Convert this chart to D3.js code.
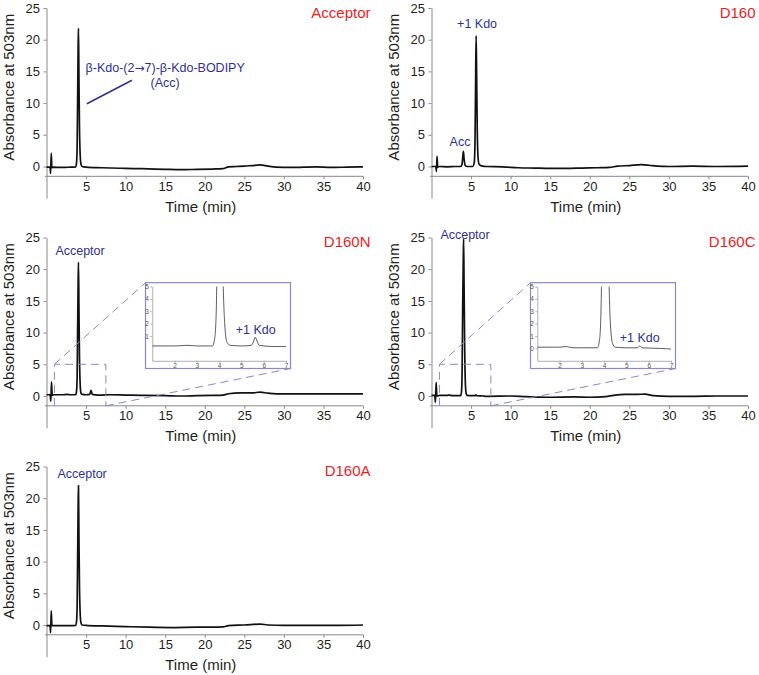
<!DOCTYPE html>
<html>
<head>
<meta charset="utf-8">
<script src="https://cdn.jsdelivr.net/npm/d3@7"></script>
<style>
  body { margin: 0; background: #fff; }
  svg { display: block; font-family: "Liberation Sans", Arial, sans-serif; }
</style>
</head>
<body>
<svg id="chart" width="759" height="675"></svg>
<script>
// HPLC traces, absorbance at 503nm vs time (min)

var panelTitles = ["Acceptor", "D160", "D160N", "D160C", "D160A"];
var timeTicks = [5, 10, 15, 20, 25, 30, 35, 40];
var absTicks = [0, 5, 10, 15, 20, 25];
var insetTimeTicks = [2, 3, 4, 5, 6, 7];
var insetAbsTicksN = [1, 2, 3, 4, 5];
var insetAbsTicksC = [0, 1, 2, 3, 4, 5];

// [time, absorbance]
var acceptorTrace = [[0,-0.1],[0.45,-0.1],[0.52,-1.1],[0.6,2.1],[0.68,-0.2],[0.8,-0.1],[2,-0.15],[3,-0.1],[3.7,-0.05],
  [3.8,0.6],[3.87,3],[3.93,10],[4.0,19],[4.04,21.8],[4.1,14],[4.17,6],[4.25,2],[4.35,0.4],[4.5,0],[5,-0.1],[7,-0.2],
  [10,-0.3],[12,-0.35],[15,-0.45],[17,-0.5],[19,-0.45],[21,-0.4],[22.3,-0.35],[23,-0.05],[24,0],[25,0.05],[26,0.15],
  [27,0.25],[28,0.05],[29,-0.1],[31,-0.15],[34,-0.05],[36,-0.15],[38,-0.1],[40,-0.05]];

var d160Trace = [[0,0],[0.55,0],[0.62,-0.8],[0.7,1.6],[0.78,-0.1],[1,0],[2,-0.05],[3,0],[3.7,0],[3.85,0.3],[3.95,1.5],
  [4.03,2.4],[4.12,1.2],[4.25,0.2],[4.5,0],[5.2,0],[5.4,0.6],[5.5,4],[5.58,14],[5.64,20.6],[5.7,15],[5.78,6],[5.88,1.5],
  [6.0,0.4],[6.3,0.1],[7,0],[9,-0.05],[11,-0.2],[13,-0.25],[15,-0.3],[17,-0.3],[19,-0.25],[21,-0.2],[22.5,-0.15],
  [23.5,0.05],[25,0.15],[26.5,0.3],[27.5,0.2],[28.5,0.05],[30,0],[33,0.05],[36,0],[40,0.05]];

var d160nTrace = [[0,0.2],[0.45,0.2],[0.55,-0.8],[0.63,2.25],[0.72,0.1],[1,0.2],[2,0.2],[2.6,0.25],[3,0.2],[3.7,0.2],
  [3.8,0.8],[3.87,3],[3.93,10],[4.0,18],[4.04,21.1],[4.1,14],[4.17,6],[4.25,2],[4.35,0.5],[4.5,0.25],[5,0.2],[5.45,0.25],
  [5.55,0.6],[5.62,0.9],[5.7,0.6],[5.8,0.25],[6.5,0.15],[7,0.15],[8,0.2],[10,0.15],[12,0.1],[15,0.05],[17,0],[19,0.05],
  [21,0.1],[22.3,0.15],[23,0.35],[24.5,0.5],[26,0.5],[27,0.6],[28,0.45],[29,0.35],[32,0.35],[35,0.35],[38,0.35],[40,0.35]];

var d160cTrace = [[0,0.1],[0.4,0.1],[0.5,-1.0],[0.58,2.15],[0.68,0],[1,0.1],[2,0.1],[2.3,0.15],[2.6,0.05],[3,0.05],
  [3.7,0.05],[3.8,0.8],[3.87,4],[3.94,14],[4.02,22],[4.06,24.8],[4.12,17],[4.2,7],[4.28,2],[4.38,0.4],[4.5,0.1],[5,0.05],
  [5.5,0.05],[5.6,0.2],[5.7,0.05],[6.5,0],[7,-0.05],[10,0],[12,-0.1],[15,-0.2],[18,-0.15],[20,-0.2],[22,-0.1],[23,0.1],
  [24.5,0.25],[26,0.25],[27,0.3],[28,0.05],[30,-0.05],[33,-0.05],[36,0],[40,0]];

var d160aTrace = [[0,-0.1],[0.45,-0.1],[0.52,-1.2],[0.6,2.25],[0.68,-0.1],[1,-0.1],[3,-0.1],[3.7,-0.05],[3.8,0.6],
  [3.87,3],[3.93,10],[4.0,19],[4.04,22],[4.1,14],[4.17,6],[4.25,2],[4.35,0.4],[4.5,0],[5,-0.05],[7,-0.15],[10,-0.25],
  [13,-0.35],[16,-0.4],[19,-0.35],[21,-0.35],[22.3,-0.3],[23,-0.1],[25,0],[27,0.15],[28,0],[30,-0.05],[34,-0.05],
  [37,-0.05],[40,0]];

var traces = [acceptorTrace, d160Trace, d160nTrace, d160cTrace, d160aTrace];

// peak labels, in data units of each panel
var peakLabels = [
  [{t: 15, a: 14.9, text: ["β-Kdo-(2", "→", "7)-β-Kdo-BODIPY"]}, {t: 15, a: 12.5, text: ["(Acc)"]}],
  [{t: 5.76, a: 21.8, text: ["+1 Kdo"]}, {t: 3.6, a: 3.2, text: ["Acc"]}],
  [{t: 4.24, a: 22.2, text: ["Acceptor"]}],
  [{t: 4.24, a: 24.8, text: ["Acceptor"]}],
  [{t: 4.5, a: 23.2, text: ["Acceptor"]}]
];
var insetLabels = {2: {t: 5.64, a: 1.17, text: "+1 Kdo"}, 3: {t: 5.6, a: 0.48, text: "+1 Kdo"}};
var insetYTicks = {2: insetAbsTicksN, 3: insetAbsTicksC};

// layout
var colX = [46.5, 431.5], rowTop = [8, 237.5, 466.5];
var plotW = 316.5, plotH = 158.5;
var red = "#ed1c24", blue = "#2e3192", lav = "#8c87c6", axisCol = "#8a8a8a";

var svg = d3.select("#chart");

var line = function (x, y) {
  return d3.line().x(function (d) { return x(d[0]); }).y(function (d) { return y(d[1]); })
    .curve(d3.curveMonotoneX);
};

panelTitles.forEach(function (title, i) {
  var x0 = colX[i % 2], top = rowTop[Math.floor(i / 2)];
  var x = d3.scaleLinear().domain([0, 40]).range([x0, x0 + plotW]);
  var y = d3.scaleLinear().domain([-5, 25]).range([top + plotH + plotH / 25 * 5, top]);
  var g = svg.append("g");

  // x axis sits a little below zero
  var xa = g.append("g").attr("transform", "translate(0," + y(-1.55) + ")")
    .call(d3.axisBottom(x).tickValues(timeTicks).tickSize(3).tickPadding(2).tickSizeOuter(0));
  xa.select(".domain").attr("d", "M" + (x0 - 1.5) + ",0H" + (x0 + plotW));
  var ya = g.append("g").attr("transform", "translate(" + x0 + ",0)")
    .call(d3.axisLeft(y).tickValues(absTicks).tickSize(3).tickPadding(3.5).tickSizeOuter(0));
  [xa, ya].forEach(function (a) {
    a.selectAll("path,line").attr("stroke", axisCol).attr("stroke-width", 1);
    a.selectAll("text").attr("fill", "#231f20").style("font-size", "13px");
  });

  g.append("text").attr("x", x(19.5)).attr("y", y(0) + 45).attr("text-anchor", "middle")
    .style("font-size", "15px").attr("fill", "#231f20").text("Time (min)");
  g.append("text").attr("transform", "translate(" + (x0 - 32.5) + "," + y(12.5) + ") rotate(-90)")
    .attr("text-anchor", "middle").style("font-size", "15px").attr("fill", "#231f20")
    .text("Absorbance at 503nm");
  g.append("text").attr("x", x0 + plotW + 7.5).attr("y", top + 9.5).attr("text-anchor", "end")
    .style("font-size", "15px").attr("fill", red).text(title);

  g.append("path").datum(traces[i]).attr("fill", "none").attr("stroke", "#111")
    .attr("stroke-width", 1.7).attr("stroke-linejoin", "round").attr("d", line(x, y));

  peakLabels[i].forEach(function (p) {
    var t = g.append("text").attr("x", x(p.t)).attr("y", y(p.a)).attr("text-anchor", "middle")
      .style("font-size", "12.5px").attr("fill", blue);
    p.text.forEach(function (s) {
      var sp = t.append("tspan").text(s);
      if (s === "→") sp.style("font-family", "'DejaVu Sans'").style("font-size", "12px");
    });
  });
  if (i === 0) {
    g.append("line").attr("x1", x(5.1)).attr("y1", y(9.9)).attr("x2", x(10.8)).attr("y2", y(13.6))
      .attr("stroke", blue).attr("stroke-width", 1.5);
  }

  // zoom insets for D160N and D160C
  if (insetLabels[i]) {
    var bx = x0 + 99, by = top + 45.2, bw = 145, bh = 85.8;
    var xi = d3.scaleLinear().domain([1, 7]).range([bx + 6.8, bx + 140.5]);
    var yi = d3.scaleLinear().domain([-1, 5]).range([by + 78.1, by + 3.8]);

    // dashed zoom box and connectors
    g.append("path").attr("fill", "none").attr("stroke", lav).attr("stroke-dasharray", "8,5")
      .attr("d", "M" + x(1) + "," + y(-1.55) + "V" + y(5) + "H" + x(7.5) + "V" + y(-1.55));
    g.append("line").attr("x1", x(1)).attr("y1", y(5)).attr("x2", bx).attr("y2", by)
      .attr("stroke", lav).attr("stroke-dasharray", "8,5");
    g.append("line").attr("x1", x(7.5)).attr("y1", y(-1.55)).attr("x2", bx + bw).attr("y2", by + bh)
      .attr("stroke", lav).attr("stroke-dasharray", "8,5");

    g.append("rect").attr("x", bx).attr("y", by).attr("width", bw).attr("height", bh)
      .attr("fill", "#fff").attr("stroke", lav).attr("stroke-width", 1.2);

    var ix = g.append("g").attr("transform", "translate(0," + yi(-1) + ")")
      .call(d3.axisBottom(xi).tickValues(insetTimeTicks).tickFormat(d3.format("d"))
        .tickSize(2).tickPadding(1).tickSizeOuter(0));
    var iy = g.append("g").attr("transform", "translate(" + xi(1) + ",0)")
      .call(d3.axisLeft(yi).tickValues(insetYTicks[i]).tickFormat(d3.format("d"))
        .tickSize(2).tickPadding(1.5).tickSizeOuter(0));
    [ix, iy].forEach(function (a) {
      a.selectAll("path,line").attr("stroke", "#9a9a9a").attr("stroke-width", 0.8);
      a.selectAll("text").attr("fill", "#555").style("font-size", "6.5px");
    });

    var clipId = "clip" + i;
    g.append("clipPath").attr("id", clipId).append("rect")
      .attr("x", xi(1)).attr("y", yi(5)).attr("width", xi(7) - xi(1)).attr("height", yi(-1) - yi(5));
    var part = traces[i].filter(function (d) { return d[0] >= 0.9 && d[0] <= 7.1; });
    g.append("path").datum(part).attr("clip-path", "url(#" + clipId + ")").attr("fill", "none")
      .attr("stroke", "#333").attr("stroke-width", 0.8).attr("d", line(xi, yi));

    var lab = insetLabels[i];
    g.append("text").attr("x", xi(lab.t)).attr("y", yi(lab.a)).attr("text-anchor", "middle")
      .style("font-size", "12.5px").attr("fill", blue).text(lab.text);
  }
});
</script>
</body>
</html>
